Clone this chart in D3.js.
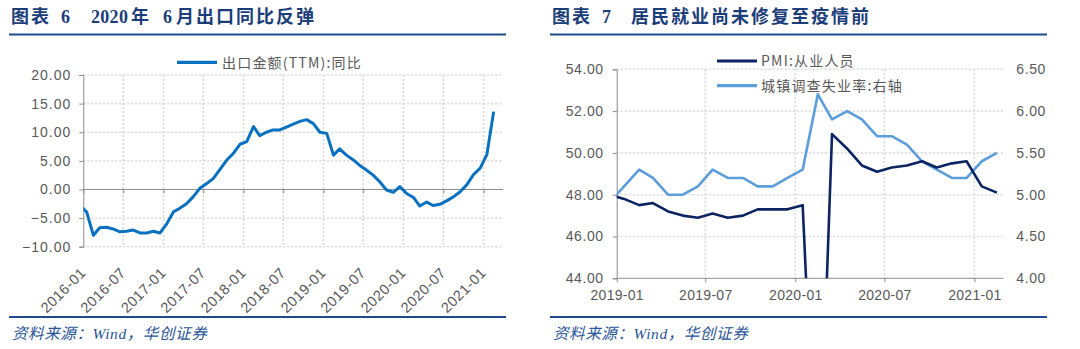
<!DOCTYPE html>
<html>
<head>
<meta charset="utf-8">
<script src="https://cdn.jsdelivr.net/npm/d3@7"></script>
<style>
  html, body { margin: 0; padding: 0; background: #ffffff; }
  svg { display: block; }
</style>
</head>
<body>
<svg id="chart" width="1080" height="349"></svg>
<script>
// ---------------- DATA ----------------
// Left chart: 出口金额(TTM):同比, monthly, first month 2015-12 (clipped at axis)
const exportStartMonth = "2015-12";
const exportYoY = [
  -2.8,
  -3.9, -8.0, -6.7, -6.6, -6.9, -7.4, -7.3, -7.1, -7.6, -7.6, -7.3, -7.6,
  -6.0, -3.9, -3.3, -2.5, -1.3, 0.2, 1.0, 1.9, 3.5, 5.1, 6.3, 7.9,
  8.35, 11.0, 9.4, 10.0, 10.4, 10.4, 10.9, 11.4, 11.9, 12.2, 11.5, 10.0,
  9.8, 6.0, 7.1, 6.0, 5.2, 4.2, 3.4, 2.5, 1.3, -0.1, -0.5, 0.5,
  -0.7, -1.4, -2.9, -2.2, -2.8, -2.6, -2.0, -1.3, -0.4, 0.8, 2.6, 3.7,
  6.1, 13.6
];
const leftXTicks = ["2016-01","2016-07","2017-01","2017-07","2018-01","2018-07","2019-01","2019-07","2020-01","2020-07","2021-01"];
const leftYTicks = [-10, -5, 0, 5, 10, 15, 20];
const leftXDomain = ["2016-01", "2021-04"];
const leftYDomain = [-10, 20];

// Right chart: monthly from 2018-12 (clipped at axis)
const rightStartMonth = "2018-12";
const pmiEmployment = [
  48.0,
  47.8, 47.5, 47.6, 47.2, 47.0, 46.9, 47.1, 46.9, 47.0, 47.3, 47.3, 47.3,
  47.5, 31.8, 50.9, 50.2, 49.4, 49.1, 49.3, 49.4, 49.6, 49.3, 49.5, 49.6,
  48.4, 48.1
];
const urbanUnemployment = [
  4.9,
  5.1, 5.3, 5.2, 5.0, 5.0, 5.1, 5.3, 5.2, 5.2, 5.1, 5.1, 5.2,
  5.3, 6.2, 5.9, 6.0, 5.9, 5.7, 5.7, 5.6, 5.4, 5.3, 5.2, 5.2,
  5.4, 5.5
];
const rightXTicks = ["2019-01","2019-07","2020-01","2020-07","2021-01"];
const rightYTicks = [44, 46, 48, 50, 52, 54];
const rightY2Ticks = [4.0, 4.5, 5.0, 5.5, 6.0, 6.5];
const rightXDomain = ["2019-01", "2021-03"];
const rightYDomain = [44, 54];
const rightY2Domain = [4.0, 6.5];

const legendLeft = ["出口金额(TTM):同比"];
const legendRight = ["PMI:从业人员", "城镇调查失业率:右轴"];

// ---------------- STYLE ----------------
const C = {
  title: "#1b3d7a",
  rule: "#1f4a8b",
  source: "#2a5597",
  text: "#595959",
  axis: "#8c8c8c",
  grid: "#d9d9d9",
  exportLine: "#0a70c0",
  pmi: "#0c2461",
  unemp: "#5c9ddb"
};
const TICK_FONT = "'Liberation Sans', Arial, sans-serif";
const CJK_FONT = "'Noto Sans CJK SC', sans-serif";

const parseMonth = d3.utcParse("%Y-%m");
const midMonth = m => d3.utcDay.offset(m, 15);
const fmt2 = d3.format(".2f");

const svg = d3.select("#chart");

function buildSeries(startMonth, values) {
  const s = parseMonth(startMonth);
  return values.map((v, i) => ({ date: d3.utcMonth.offset(s, i), value: v }));
}

function header(x0, x1, parts) {
  const g = svg.append("g");
  const t = g.append("text")
    .attr("y", 23)
    .attr("fill", C.title)
    .attr("font-family", "'Liberation Serif', " + CJK_FONT)
    .attr("font-weight", "bold")
    .attr("font-size", 18);
  parts.forEach(p => t.append("tspan").attr("x", p[0]).attr("letter-spacing", p[2]).text(p[1]));
  g.append("line").attr("x1", x0).attr("x2", x1).attr("y1", 34.5).attr("y2", 34.5)
    .attr("stroke", C.rule).attr("stroke-width", 2.2);
  g.append("line").attr("x1", x0).attr("x2", x1).attr("y1", 317).attr("y2", 317)
    .attr("stroke", C.rule).attr("stroke-width", 2.2);
  g.append("text")
    .attr("x", x0 + 3).attr("y", 339)
    .attr("fill", C.source)
    .attr("font-family", "'Liberation Serif', " + CJK_FONT)
    .attr("font-style", "italic")
    .attr("font-size", 15.5)
    .attr("letter-spacing", 0.6)
    .text("资料来源：Wind，华创证券");
}

// ---------------- LEFT CHART ----------------
header(9, 506, [[11, "图表", 2], [61, "6", 0], [91, "2020", 0.3], [131, "年", 0], [163, "6", 0], [176, "月出口同比反弹", 2]]);
{
  const L = { l: 83.3, r: 503.3, t: 75, b: 246.7 };
  const x = d3.scaleUtc().domain(leftXDomain.map(parseMonth)).range([L.l, L.r]);
  const y = d3.scaleLinear().domain(leftYDomain).range([L.b, L.t]);
  const g = svg.append("g");

  g.append("clipPath").attr("id", "clipL").append("rect")
    .attr("x", L.l).attr("y", L.t - 10).attr("width", L.r - L.l).attr("height", L.b - L.t + 20);

  g.selectAll(".hg").data(leftYTicks.filter(v => v !== 0)).join("line")
    .attr("x1", L.l).attr("x2", L.r)
    .attr("y1", d => y(d)).attr("y2", d => y(d))
    .attr("stroke", C.grid).attr("stroke-width", 1.6).attr("stroke-dasharray", "2,2");
  g.selectAll(".vg").data(leftXTicks.slice(1).map(parseMonth)).join("line")
    .attr("x1", d => x(d)).attr("x2", d => x(d))
    .attr("y1", L.t).attr("y2", L.b)
    .attr("stroke", C.grid).attr("stroke-width", 1.6).attr("stroke-dasharray", "2,2");

  const yAxis = d3.axisLeft(y).tickValues(leftYTicks).tickSize(4).tickPadding(8).tickFormat(fmt2);
  const ya = g.append("g").attr("transform", `translate(${L.l},0)`).call(yAxis);
  ya.select(".domain").attr("stroke", C.axis);
  ya.selectAll(".tick line").attr("stroke", C.axis);
  ya.selectAll(".tick text").attr("fill", C.text).attr("font-family", TICK_FONT)
    .attr("font-size", 14).attr("letter-spacing", 1);

  const xAxis = d3.axisBottom(x).tickValues(leftXTicks.map(parseMonth)).tickSize(4).tickFormat(d3.utcFormat("%Y-%m"));
  const xa = g.append("g").attr("transform", `translate(0,${y(0)})`).call(xAxis);
  xa.select(".domain").attr("stroke", C.axis).attr("d", `M${L.l},0H${L.r}`);
  xa.selectAll(".tick line").attr("stroke", C.axis);
  xa.selectAll(".tick text")
    .attr("fill", C.text).attr("font-family", TICK_FONT).attr("font-size", 14.5)
    .attr("letter-spacing", 0.5)
    .attr("text-anchor", "end")
    .attr("dy", 0)
    .attr("y", 0)
    .attr("transform", `translate(3,${L.b + 27 - y(0)}) rotate(-45)`);

  const series = buildSeries(exportStartMonth, exportYoY);
  g.append("path").datum(series)
    .attr("clip-path", "url(#clipL)")
    .attr("fill", "none").attr("stroke", C.exportLine).attr("stroke-width", 3)
    .attr("stroke-linejoin", "round")
    .attr("d", d3.line().x(d => x(midMonth(d.date))).y(d => y(d.value)));

  const lg = g.append("g");
  lg.append("line").attr("x1", 177).attr("x2", 217).attr("y1", 62.3).attr("y2", 62.3)
    .attr("stroke", C.exportLine).attr("stroke-width", 3.2);
  lg.append("text").attr("x", 222).attr("y", 67.5)
    .attr("fill", C.text).attr("font-family", CJK_FONT).attr("font-size", 14)
    .attr("letter-spacing", 1.2)
    .text(legendLeft[0]);
}

// ---------------- RIGHT CHART ----------------
header(550, 1047, [[552, "图表", 2], [602, "7", 0], [631, "居民就业尚未修复至疫情前", 2]]);
{
  const R = { l: 616.7, r: 1003.3, t: 69.3, b: 278.3 };
  const x = d3.scaleUtc().domain(rightXDomain.map(parseMonth)).range([R.l, R.r]);
  const y = d3.scaleLinear().domain(rightYDomain).range([R.b, R.t]);
  const y2 = d3.scaleLinear().domain(rightY2Domain).range([R.b, R.t]);
  const g = svg.append("g");

  g.append("clipPath").attr("id", "clipR").append("rect")
    .attr("x", R.l).attr("y", R.t - 10).attr("width", R.r - R.l + 10).attr("height", R.b - R.t + 10);

  g.selectAll(".hg").data(rightYTicks.filter(v => v !== rightYDomain[0])).join("line")
    .attr("x1", R.l).attr("x2", R.r)
    .attr("y1", d => y(d)).attr("y2", d => y(d))
    .attr("stroke", C.grid).attr("stroke-width", 1.6).attr("stroke-dasharray", "2,2");
  g.selectAll(".vg").data(rightXTicks.slice(1).map(parseMonth)).join("line")
    .attr("x1", d => x(d)).attr("x2", d => x(d))
    .attr("y1", R.t).attr("y2", R.b)
    .attr("stroke", C.grid).attr("stroke-width", 1.6).attr("stroke-dasharray", "2,2");

  const yAxis = d3.axisLeft(y).tickValues(rightYTicks).tickSize(4).tickPadding(9).tickFormat(fmt2);
  const ya = g.append("g").attr("transform", `translate(${R.l},0)`).call(yAxis);
  ya.select(".domain").attr("stroke", C.axis);
  ya.selectAll(".tick line").attr("stroke", C.axis);
  ya.selectAll(".tick text").attr("fill", C.text).attr("font-family", TICK_FONT)
    .attr("font-size", 14).attr("letter-spacing", 0.6);

  const y2Axis = d3.axisRight(y2).tickValues(rightY2Ticks).tickSize(0).tickPadding(13).tickFormat(fmt2);
  const y2a = g.append("g").attr("transform", `translate(${R.r},0)`).call(y2Axis);
  y2a.select(".domain").remove();
  y2a.selectAll(".tick text").attr("fill", C.text).attr("font-family", TICK_FONT)
    .attr("font-size", 14).attr("letter-spacing", 0.6);

  const xAxis = d3.axisBottom(x).tickValues(rightXTicks.map(parseMonth)).tickSize(4).tickPadding(8)
    .tickFormat(d3.utcFormat("%Y-%m"));
  const xa = g.append("g").attr("transform", `translate(0,${R.b})`).call(xAxis);
  xa.select(".domain").attr("stroke", C.axis).attr("d", `M${R.l},0H${R.r}`);
  xa.selectAll(".tick line").attr("stroke", C.axis);
  xa.selectAll(".tick text").attr("fill", C.text).attr("font-family", TICK_FONT)
    .attr("font-size", 14).attr("letter-spacing", 0.3);

  const pmi = buildSeries(rightStartMonth, pmiEmployment);
  const unemp = buildSeries(rightStartMonth, urbanUnemployment);

  g.append("path").datum(unemp)
    .attr("clip-path", "url(#clipR)")
    .attr("fill", "none").attr("stroke", C.unemp).attr("stroke-width", 2.6)
    .attr("stroke-linejoin", "round")
    .attr("d", d3.line().x(d => x(midMonth(d.date))).y(d => y2(d.value)));
  g.append("path").datum(pmi)
    .attr("clip-path", "url(#clipR)")
    .attr("fill", "none").attr("stroke", C.pmi).attr("stroke-width", 2.6)
    .attr("stroke-linejoin", "round")
    .attr("d", d3.line().x(d => x(midMonth(d.date))).y(d => y(d.value)));

  const lg = g.append("g");
  const items = [[legendRight[0], C.pmi, 61], [legendRight[1], C.unemp, 85.7]];
  items.forEach(([label, col, yy]) => {
    lg.append("line").attr("x1", 717).attr("x2", 757).attr("y1", yy).attr("y2", yy)
      .attr("stroke", col).attr("stroke-width", 3.2);
    lg.append("text").attr("x", 761).attr("y", yy + 5.2)
      .attr("fill", C.text).attr("font-family", CJK_FONT).attr("font-size", 14)
      .attr("letter-spacing", 1.2)
      .text(label);
  });
}
</script>
</body>
</html>
